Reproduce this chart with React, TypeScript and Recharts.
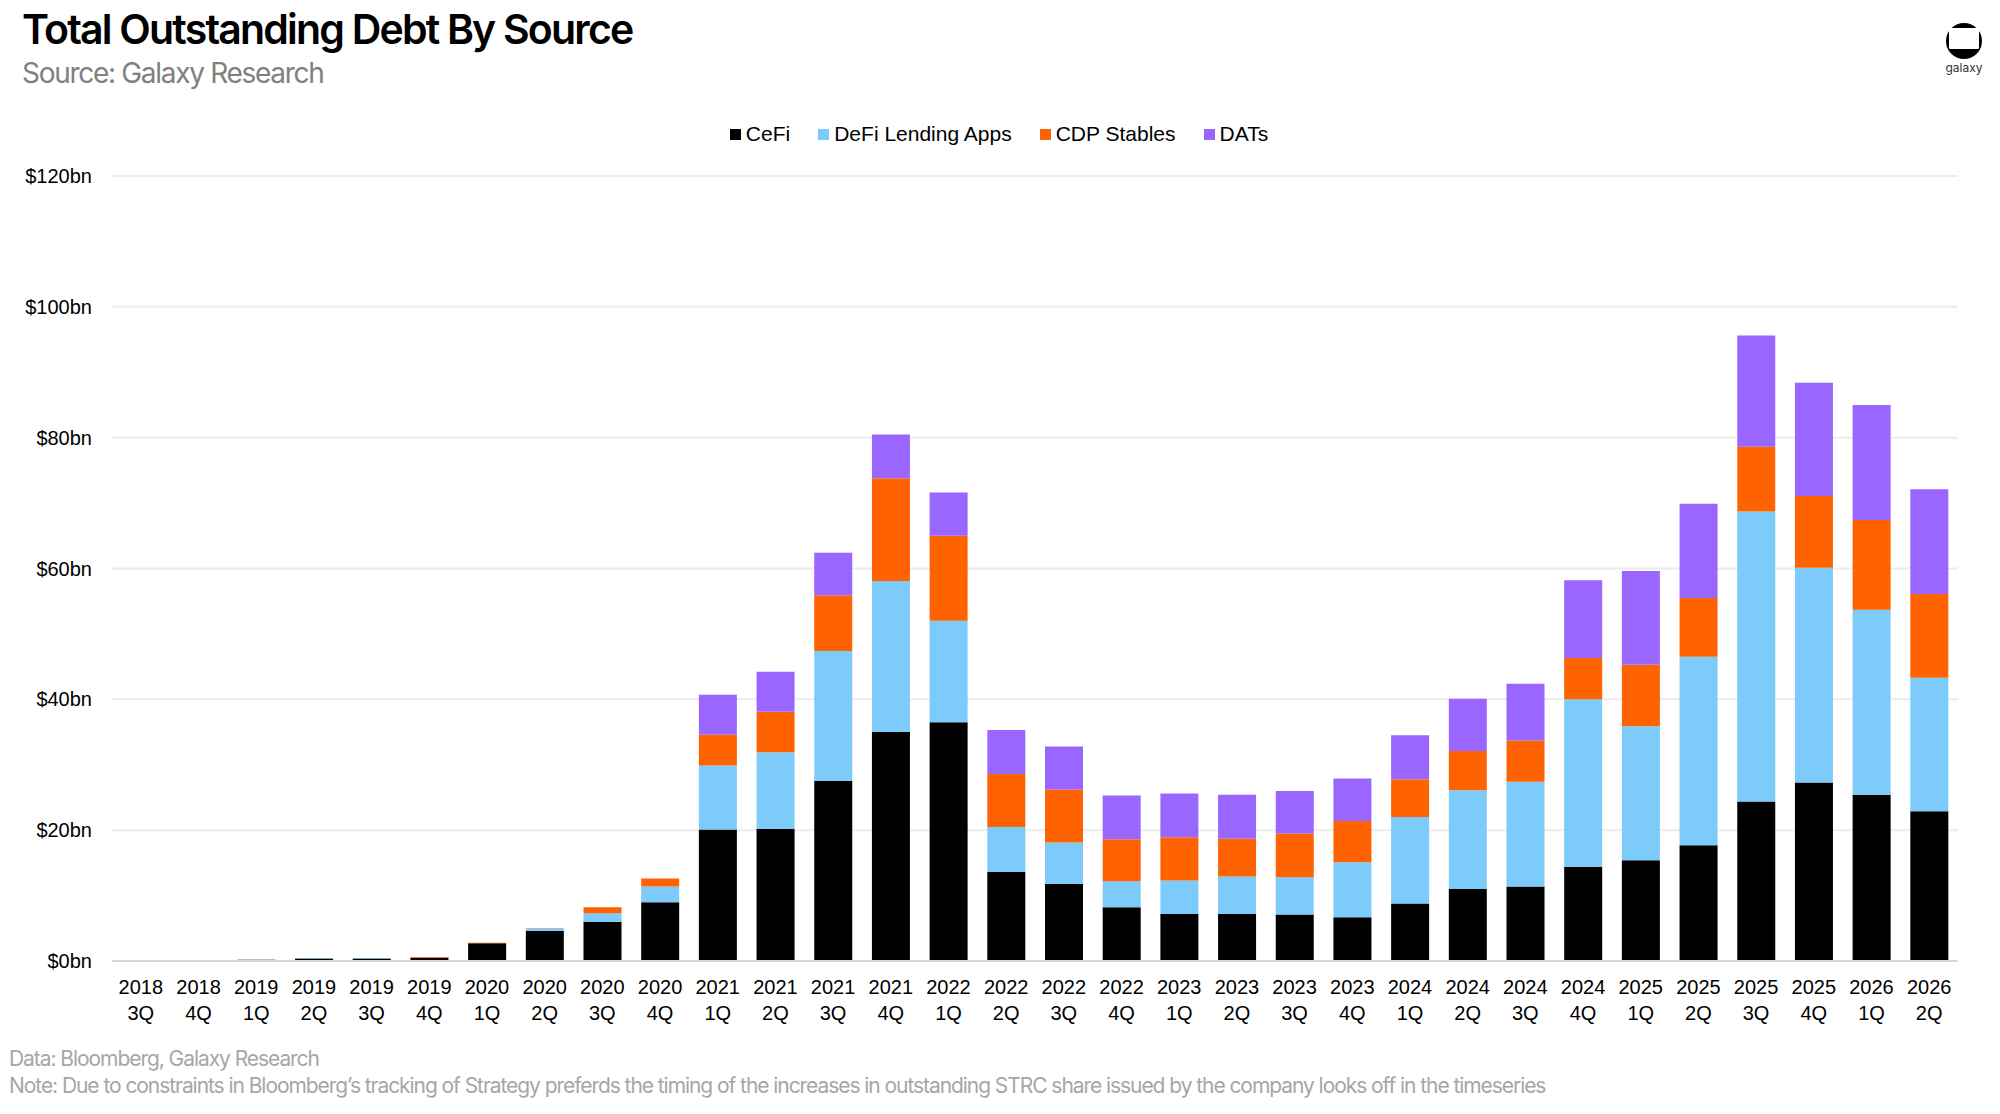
import { BarChart, Bar, XAxis, YAxis, CartesianGrid } from "recharts";

// quarter labels, "year quarter"
const categories = [
  "2018 3Q", "2018 4Q",
  "2019 1Q", "2019 2Q", "2019 3Q", "2019 4Q",
  "2020 1Q", "2020 2Q", "2020 3Q", "2020 4Q",
  "2021 1Q", "2021 2Q", "2021 3Q", "2021 4Q",
  "2022 1Q", "2022 2Q", "2022 3Q", "2022 4Q",
  "2023 1Q", "2023 2Q", "2023 3Q", "2023 4Q",
  "2024 1Q", "2024 2Q", "2024 3Q", "2024 4Q",
  "2025 1Q", "2025 2Q", "2025 3Q", "2025 4Q",
  "2026 1Q", "2026 2Q",
];

// $bn
const cefi = [
  0, 0, 0.2, 0.4, 0.4, 0.5, 2.7, 4.6, 6.0, 9.0,
  20.1, 20.2, 27.5, 35.0, 36.5, 13.6, 11.8, 8.2,
  7.2, 7.2, 7.1, 6.7, 8.8, 11.0, 11.4, 14.4,
  15.4, 17.7, 24.4, 27.3, 25.4, 22.9,
];
const defi = [
  0, 0, 0, 0.05, 0.05, 0, 0, 0.4, 1.3, 2.4,
  9.8, 11.7, 19.9, 23.1, 15.5, 6.9, 6.3, 4.0,
  5.1, 5.7, 5.7, 8.4, 13.2, 15.1, 16.0, 25.6,
  20.5, 28.8, 44.3, 32.8, 28.3, 20.4,
];
const cdp = [
  0, 0, 0, 0, 0, 0.1, 0.1, 0.05, 0.9, 1.2,
  4.7, 6.2, 8.5, 15.7, 13.0, 8.1, 8.1, 6.4,
  6.6, 5.8, 6.7, 6.3, 5.8, 6.0, 6.3, 6.3,
  9.4, 9.0, 9.9, 11.0, 13.7, 12.8,
];
const dats = [
  0, 0, 0, 0, 0, 0, 0, 0, 0, 0,
  6.1, 6.1, 6.5, 6.7, 6.6, 6.7, 6.6, 6.7,
  6.7, 6.7, 6.5, 6.5, 6.7, 8.0, 8.7, 11.9,
  14.3, 14.4, 17.0, 17.3, 17.6, 16.0,
];

const yTicks = [0, 20, 40, 60, 80, 100, 120];

const series = [
  { key: "cefi", name: "CeFi", color: "#000000" },
  { key: "defi", name: "DeFi Lending Apps", color: "#7dcbfb" },
  { key: "cdp", name: "CDP Stables", color: "#ff6200" },
  { key: "dats", name: "DATs", color: "#9966ff" },
];

const data = categories.map((label, i) => ({
  label,
  cefi: cefi[i],
  defi: defi[i],
  cdp: cdp[i],
  dats: dats[i],
}));

const titleFont = "Inter, 'Noto Sans', sans-serif";
const axisFont = "'Liberation Sans', Arial, sans-serif";

// two-line quarter label under each bar
const QuarterTick = ({ x, y, payload }: any) => {
  const [year, q] = String(payload.value).split(" ");
  return (
    <text
      x={x}
      y={y}
      textAnchor="middle"
      fontFamily={axisFont}
      fontSize={20}
      fill="#000"
    >
      <tspan x={x} dy={25}>
        {year}
      </tspan>
      <tspan x={x} dy={26}>
        {q}
      </tspan>
    </text>
  );
};

function Logo() {
  return (
    <div style={{ position: "absolute", left: 1950 - 10, top: 22, width: 48, textAlign: "center" }}>
      <svg width={38} height={38} viewBox="-19 -19 38 38">
        <circle r={18} fill="#000" />
        <rect x={-15} y={-13} width={30} height={21} rx={1} fill="#fff" />
      </svg>
      <div style={{ fontFamily: titleFont, fontSize: 12, color: "#333", marginTop: -4 }}>
        galaxy
      </div>
    </div>
  );
}

export default function App() {
  return (
    <div
      style={{
        position: "absolute",
        left: 0,
        top: 0,
        width: 2000,
        height: 1114,
        background: "#fff",
        overflow: "hidden",
      }}
    >
      <div
        style={{
          position: "absolute",
          left: 22,
          top: 4,
          fontFamily: titleFont,
          fontSize: 41,
          fontWeight: 600,
          letterSpacing: -1.8,
          color: "#000",
          whiteSpace: "nowrap",
        }}
      >
        Total Outstanding Debt By Source
      </div>
      <div
        style={{
          position: "absolute",
          left: 22,
          top: 56,
          fontFamily: titleFont,
          fontSize: 28,
          fontWeight: 400,
          letterSpacing: -1.3,
          color: "#808080",
          whiteSpace: "nowrap",
        }}
      >
        Source: Galaxy Research
      </div>
      <Logo />

      {/* legend */}
      <div
        style={{
          position: "absolute",
          left: 0,
          top: 122,
          width: 1998,
          display: "flex",
          justifyContent: "center",
          gap: 28,
          fontFamily: axisFont,
          fontSize: 21,
          color: "#000",
        }}
      >
        {series.map((s) => (
          <div key={s.key} style={{ display: "flex", alignItems: "center" }}>
            <span
              style={{
                display: "inline-block",
                width: 11,
                height: 11,
                background: s.color,
                marginRight: 5,
              }}
            />
            {s.name}
          </div>
        ))}
      </div>

      <div style={{ position: "absolute", left: 0, top: 0 }}>
        <BarChart
          width={2000}
          height={1114}
          data={data}
          margin={{ top: 176, right: 42, left: 0, bottom: 83 }}
          barSize={38}
        >
          <CartesianGrid vertical={false} stroke="#ececec" strokeWidth={2} />
          <XAxis
            dataKey="label"
            interval={0}
            height={70}
            tickLine={false}
            axisLine={{ stroke: "#d6d6d6", strokeWidth: 2 }}
            tick={<QuarterTick />}
          />
          <YAxis
            width={112}
            domain={[0, 120]}
            ticks={yTicks}
            axisLine={false}
            tickLine={false}
            tickMargin={14}
            tick={{ fontFamily: axisFont, fontSize: 20, fill: "#000" }}
            tickFormatter={(v: number) => `$${v}bn`}
          />
          {series.map((s) => (
            <Bar
              key={s.key}
              dataKey={s.key}
              name={s.name}
              stackId="debt"
              fill={s.color}
              isAnimationActive={false}
            />
          ))}
        </BarChart>
      </div>

      <div
        style={{
          position: "absolute",
          left: 9,
          top: 1045,
          fontFamily: titleFont,
          fontSize: 21,
          letterSpacing: -1.06,
          color: "#a6a6a6",
          lineHeight: "27px",
          whiteSpace: "nowrap",
        }}
      >
        <div>Data: Bloomberg, Galaxy Research</div>
        <div>
          Note: Due to constraints in Bloomberg’s tracking of Strategy preferds the timing of the
          increases in outstanding STRC share issued by the company looks off in the timeseries
        </div>
      </div>
    </div>
  );
}
